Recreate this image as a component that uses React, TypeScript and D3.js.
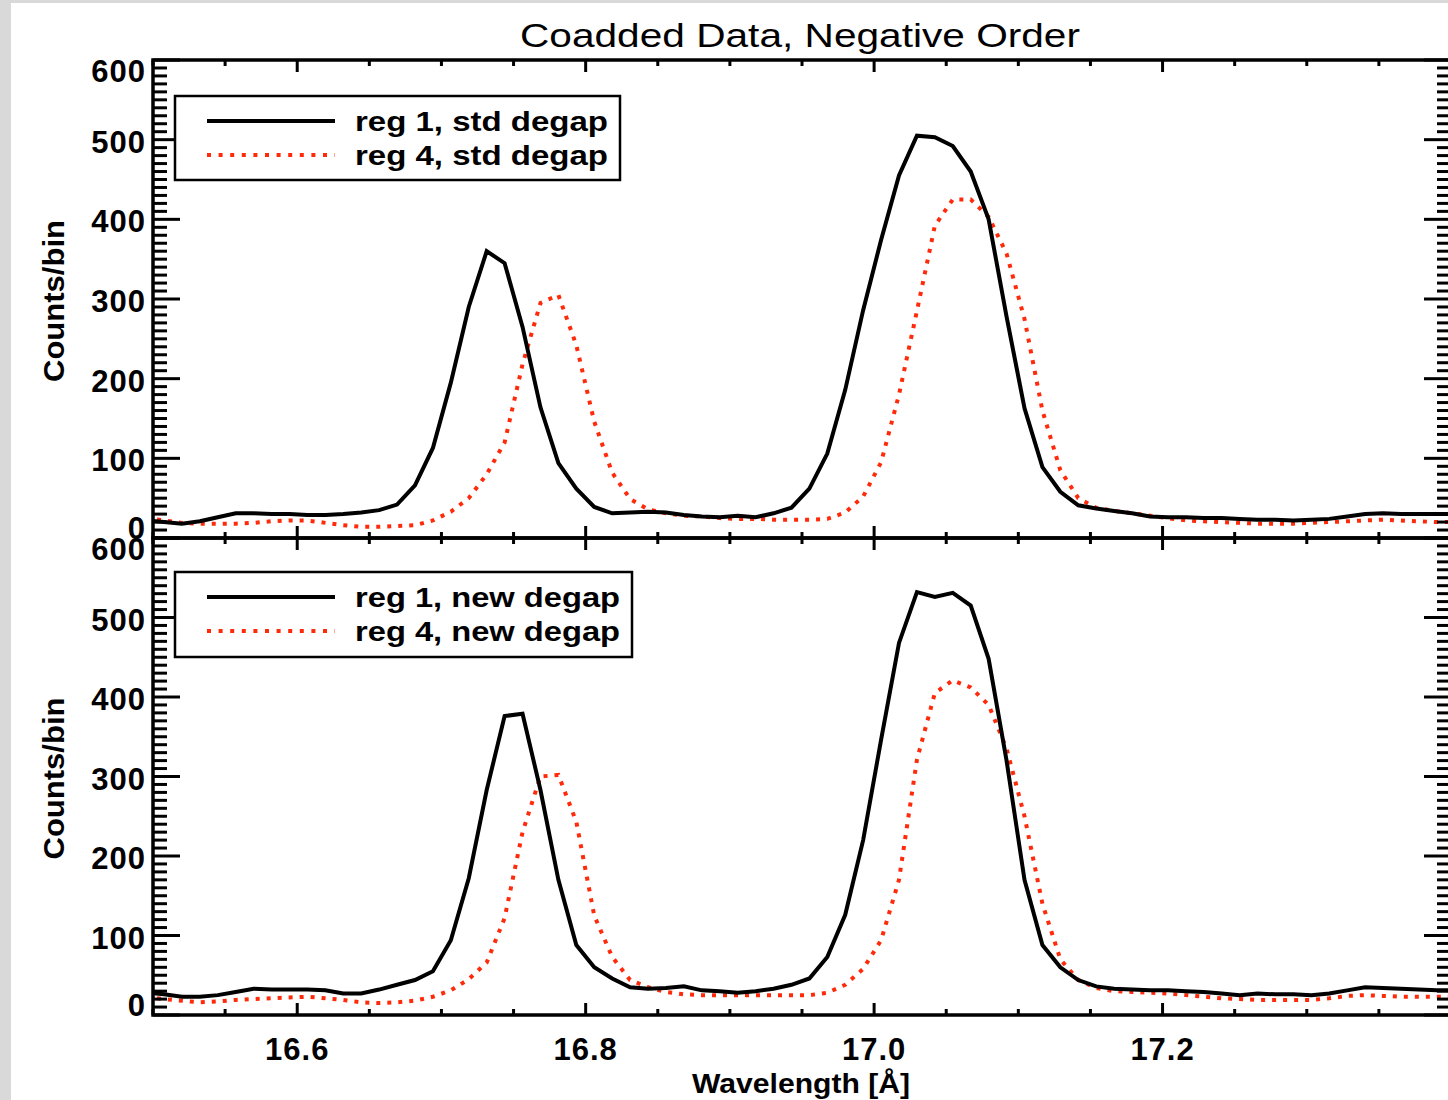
import React from "react"
import * as d3 from "d3"

// bin centres (Angstrom), 0.0125 A bins
const wavelength = d3.range(74).map(i => 16.4952 + i * 0.01243)

const stdReg1 = [22, 20, 18, 21, 26, 31, 31, 30, 30, 29, 29, 30, 32, 35, 42, 66, 113, 195, 290, 360,
  345, 265, 164, 94, 62, 39, 31, 32, 33, 32, 29, 27, 26, 28, 26, 31, 38, 62, 106, 186,
  286, 374, 455, 505, 503, 492, 460, 400, 278, 163, 89, 58, 41, 37, 34, 31, 27, 26, 26, 25,
  25, 24, 23, 23, 22, 23, 24, 27, 30, 31, 30, 30, 30, 30]
const stdReg4 = [25, 22, 19, 18, 18, 18, 19, 21, 22, 22, 19, 16, 14, 14, 15, 16, 22, 33, 50, 80,
  120, 218, 295, 305, 242, 146, 82, 49, 36, 31, 28, 27, 25, 24, 24, 23, 23, 23, 24, 32,
  52, 95, 180, 285, 392, 425, 425, 403, 357, 275, 160, 85, 50, 38, 34, 31, 28, 25, 22, 21,
  20, 19, 18, 18, 18, 19, 20, 21, 22, 23, 22, 21, 20, 20]
const newReg1 = [28, 26, 23, 23, 25, 29, 33, 32, 32, 32, 31, 27, 27, 32, 38, 44, 55, 94, 172, 283,
  376, 379, 283, 170, 88, 60, 46, 35, 33, 34, 36, 31, 30, 28, 30, 33, 38, 46, 73, 126,
  220, 346, 468, 532, 526, 531, 515, 448, 320, 170, 88, 60, 44, 36, 33, 32, 31, 31, 30, 29,
  27, 25, 27, 26, 26, 25, 27, 31, 35, 34, 33, 32, 31, 31]
const newReg4 = [23, 20, 18, 16, 17, 19, 20, 21, 22, 23, 21, 19, 16, 15, 16, 18, 23, 31, 45, 66,
  122, 230, 300, 302, 243, 125, 73, 44, 35, 29, 26, 25, 25, 25, 25, 25, 25, 25, 28, 38,
  58, 94, 170, 321, 405, 421, 412, 390, 335, 250, 140, 70, 44, 34, 30, 29, 28, 27, 25, 23,
  21, 20, 19, 19, 19, 19, 21, 24, 25, 24, 23, 23, 23, 23]

const xMajorTicks = [16.6, 16.8, 17.0, 17.2]
const yMajorTicks = [0, 100, 200, 300, 400, 500, 600]
const titleText = "Coadded Data, Negative Order"
const xLabel = "Wavelength [Å]"
const yLabel = "Counts/bin"

const RED = "#ff2a0a"
const FONT = "'Liberation Sans', Arial, sans-serif"

const left = 153
const right = 1451
const x = d3.scaleLinear().domain([16.5, 17.4]).range([left, right])
const xMinor = x.ticks(18)

const panels = [
  { id: "p1", top: 60, bottom: 538, reg1: stdReg1, reg4: stdReg4,
    legend: ["reg 1, std degap", "reg 4, std degap"], box: [175, 96, 445, 84], textLen: 253 },
  { id: "p2", top: 538, bottom: 1015, reg1: newReg1, reg4: newReg4,
    legend: ["reg 1, new degap", "reg 4, new degap"], box: [175, 572, 457, 85], textLen: 265 },
]

const Panel = ({ p }) => {
  const y = d3.scaleLinear().domain([0, 600]).range([p.bottom, p.top])
  const yMinor = y.ticks(60)
  const line = d3.line<number>().x((d, i) => x(wavelength[i])).y(d => y(d))
  const [bx, by, bw, bh] = p.box
  const l1 = by + 25
  const l2 = by + 59
  return (
    <g>
      <clipPath id={p.id}>
        <rect x={left} y={p.top} width={right - left} height={p.bottom - p.top} />
      </clipPath>
      <g clipPath={`url(#${p.id})`}>
        <path d={line(p.reg4)} fill="none" stroke={RED} strokeWidth={4} strokeDasharray="4 7" />
        <path d={line(p.reg1)} fill="none" stroke="#000" strokeWidth={4} strokeLinejoin="miter" />
      </g>
      {/* frame */}
      <rect x={left} y={p.top} width={right - left} height={p.bottom - p.top}
        fill="none" stroke="#000" strokeWidth={3.5} />
      {/* x ticks */}
      {xMinor.map(t => {
        const big = xMajorTicks.some(m => Math.abs(m - t) < 1e-6)
        const len = big ? 12 : 6
        return (
          <g key={"x" + t} stroke="#000" strokeWidth={3}>
            <line x1={x(t)} x2={x(t)} y1={p.bottom} y2={p.bottom - len} />
            <line x1={x(t)} x2={x(t)} y1={p.top} y2={p.top + len} />
          </g>
        )
      })}
      {/* y ticks */}
      {yMinor.map(t => {
        const len = t % 100 === 0 ? 27 : 14
        return (
          <g key={"y" + t} stroke="#000" strokeWidth={3}>
            <line x1={left} x2={left + len} y1={y(t)} y2={y(t)} />
            <line x1={right} x2={right - len} y1={y(t)} y2={y(t)} />
          </g>
        )
      })}
      {yMajorTicks.map(t => {
        const off = t === 0 ? -10 : t === 600 ? 11 : 2
        return (
          <text key={"yl" + t} x={146} y={y(t) + off + 11} textAnchor="end"
            fontFamily={FONT} fontWeight="bold" fontSize={31} letterSpacing={1}>{t}</text>
        )
      })}
      <text transform={`translate(64,${(p.top + p.bottom) / 2 + 2}) rotate(-90)`} textAnchor="middle"
        fontFamily={FONT} fontWeight="bold" fontSize={29} textLength={162} lengthAdjust="spacingAndGlyphs">{yLabel}</text>
      {/* legend */}
      <rect x={bx} y={by} width={bw} height={bh} fill="#fff" stroke="#000" strokeWidth={2.5} />
      <line x1={207} x2={335} y1={l1} y2={l1} stroke="#000" strokeWidth={4} />
      <line x1={207} x2={335} y1={l2} y2={l2} stroke={RED} strokeWidth={4} strokeDasharray="4 7.6" />
      <text x={355} y={l1 + 10} fontFamily={FONT} fontWeight="bold" fontSize={28}
        textLength={p.textLen} lengthAdjust="spacingAndGlyphs">{p.legend[0]}</text>
      <text x={355} y={l2 + 10} fontFamily={FONT} fontWeight="bold" fontSize={28}
        textLength={p.textLen} lengthAdjust="spacingAndGlyphs">{p.legend[1]}</text>
    </g>
  )
}

export default function App() {
  return (
    <svg width={1448} height={1100} style={{ position: "absolute", left: 0, top: 0, background: "#fff" }}>
      <rect x={0} y={0} width={1448} height={1100} fill="#d9d9d9" />
      <rect x={11} y={3} width={1437} height={1097} fill="#fff" />
      <text x={800} y={47} textAnchor="middle" fontFamily={FONT} fontSize={33}
        textLength={560} lengthAdjust="spacingAndGlyphs">{titleText}</text>
      {panels.map(p => <Panel key={p.id} p={p} />)}
      {xMajorTicks.map(t => (
        <text key={"xl" + t} x={x(t)} y={1060} textAnchor="middle" fontFamily={FONT}
          fontWeight="bold" fontSize={31} letterSpacing={1}>{t.toFixed(1)}</text>
      ))}
      <text x={801} y={1093} textAnchor="middle" fontFamily={FONT} fontWeight="bold" fontSize={27}
        textLength={218} lengthAdjust="spacingAndGlyphs">{xLabel}</text>
    </svg>
  )
}
